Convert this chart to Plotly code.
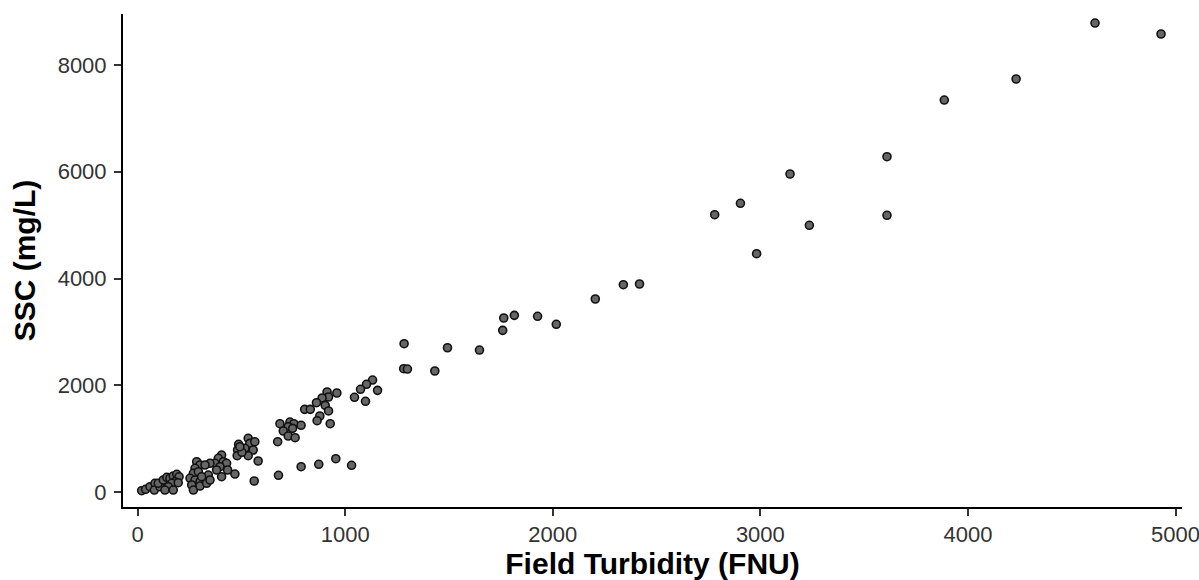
import plotly.graph_objects as go

# Field turbidity (FNU) vs suspended-sediment concentration (mg/L) samples
turbidity = [
    20, 39, 60, 84, 81, 108, 100, 124, 141, 156, 172, 189, 200, 180, 165, 148, 132, 172, 196,
    285, 301, 277, 269, 293, 253, 277, 301, 261, 269, 405, 389, 413, 373, 349, 325, 429, 397,
    381, 434, 469, 405, 341, 309, 301, 333, 349,
    487, 533, 541, 565, 482, 517, 557, 480, 533, 581, 562, 503, 493,
    1132, 1103, 1156, 1074, 1045, 1098, 960, 913, 920, 889, 862, 904, 920, 878, 865, 928,
    805, 832, 686, 734, 753, 726, 747, 788, 702, 726, 759, 675, 679, 788, 873, 955, 1031,
    1284, 1282, 1300, 1432, 1493, 1647, 1759, 1764, 1815, 1927, 2017, 2205, 2340, 2418,
    2780, 2904, 2982, 3143, 3236, 3610, 3610,
    3886, 4232, 4612, 4930,
]
ssc = [
    24, 51, 99, 163, 37, 99, 163, 225, 275, 257, 300, 332, 287, 193, 163, 99, 37, 37, 174,
    568, 506, 444, 350, 380, 257, 225, 193, 131, 37, 693, 631, 568, 538, 538, 506, 538, 474,
    412, 412, 337, 287, 318, 287, 112, 163, 225,
    894, 1006, 912, 942, 787, 819, 787, 680, 680, 581, 206, 744, 849,
    2098, 2018, 1905, 1924, 1774, 1699, 1855, 1874, 1780, 1761, 1673, 1624, 1518, 1424, 1336, 1280,
    1549, 1549, 1280, 1311, 1280, 1223, 1193, 1250, 1143, 1049, 1017, 942, 313, 474, 519, 624, 500,
    2778, 2310, 2304, 2267, 2703, 2660, 3029, 3260, 3310, 3292, 3142, 3616, 3884, 3897,
    5195, 5409, 4465, 5958, 4997, 6282, 5184,
    7344, 7738, 8787, 8581,
]

x_ticks = [0, 1000, 2000, 3000, 4000, 5000]
y_ticks = [0, 2000, 4000, 6000, 8000]

FONT = "Liberation Sans, Arial, Helvetica, sans-serif"

fig = go.Figure(
    go.Scatter(
        x=turbidity,
        y=ssc,
        mode="markers",
        marker=dict(size=8, color="#666666", line=dict(color="#111111", width=1.6)),
        hoverinfo="x+y",
    )
)

axis_common = dict(
    showgrid=False,
    zeroline=False,
    showline=True,
    linecolor="black",
    linewidth=2,
    ticks="outside",
    ticklen=7,
    tickwidth=2,
    tickcolor="#333333",
    tickfont=dict(family=FONT, size=22, color="#333333"),
    ticklabeloverflow="allow",
    automargin=False,
    mirror=False,
)

fig.update_xaxes(
    **axis_common,
    range=[-70, 5031],
    tickvals=x_ticks,
    ticktext=[str(v) for v in x_ticks],
    ticklabelstandoff=0,
    title=dict(
        text="<b>Field Turbidity (FNU)</b>",
        font=dict(family=FONT, size=30, color="black"),
        standoff=11,
    ),
)
fig.update_yaxes(
    **axis_common,
    range=[-281, 8956],
    tickvals=y_ticks,
    ticktext=[str(v) for v in y_ticks],
    ticklabelstandoff=3,
    title=dict(
        text="<b>SSC (mg/L)</b>",
        font=dict(family=FONT, size=30, color="black"),
        standoff=13,
    ),
)

fig.update_layout(
    width=1199,
    height=580,
    margin=dict(l=123, r=17, t=14, b=73),
    plot_bgcolor="white",
    paper_bgcolor="white",
    showlegend=False,
)

fig.write_html("out.html")
